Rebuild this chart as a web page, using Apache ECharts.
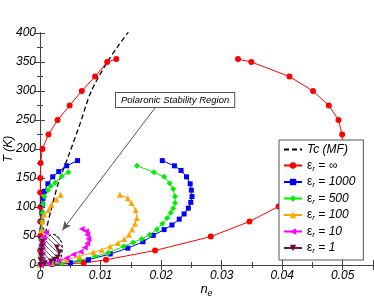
<!DOCTYPE html>
<html><head><meta charset="utf-8">
<script src="https://cdn.jsdelivr.net/npm/echarts@6/dist/echarts.min.js"></script>
<style>html,body{margin:0;padding:0;background:#fff}#c{width:374px;height:300px}</style>
</head><body><div id="c"></div>
<script>
// ---- data (n_e, T) ; null breaks a curve into its two branches ----
const tcMF = [[0,0],[0.0003,22],[0.0008,49],[0.0017,90],[0.003,140],[0.0047,188],[0.0066,243],[0.0084,298],[0.011,348],[0.0128,376],[0.0146,402]];
const eInf = [[0.00005,0],[0.00005,25],[0.00005,50],[0.00005,75],[0.00005,100],[0.00005,125],[0.00005,150],[0.0001,176],[0.0004,200],[0.0014,225],[0.0029,250],[0.0049,275],[0.0069,300],[0.0091,325],[0.0111,350],[0.0126,355],
  null,
  [0.0327,355],[0.0349,350],[0.0412,325],[0.0451,300],[0.0477,275],[0.0493,250],[0.0499,225],[0.0500,200],[0.0494,175],[0.0480,150],[0.0450,125],[0.0394,101],[0.0346,75],[0.0282,49],[0.019,25],[0.0109,9],[0.0072,3.5],[0.0002,0]];
const e1000 = [[0.0001,0],[0.0002,15],[0.0002,30],[0.0002,45],[0.0003,60],[0.0003,75],[0.0003,90],[0.0004,105],[0.0005,115],[0.0007,127],[0.0013,140],[0.0021,152],[0.0031,161],[0.0044,171],[0.0062,180],
  null,
  [0.0202,180],[0.0222,171],[0.0233,163],[0.0242,152],[0.0248,140],[0.0250,129],[0.0251,118],[0.0249,108],[0.0245,98],[0.0238,88],[0.0230,79],[0.0218,69],[0.0205,61],[0.0187,51],[0.0170,40],[0.0145,29],[0.0116,19],[0.0080,9],[0.005,4],[0.002,1],[0.0001,0]];
const e500 = [[0.0001,0],[0.0002,15],[0.0002,30],[0.0003,45],[0.0003,60],[0.0003,75],[0.0004,90],[0.0005,105],[0.0007,118],[0.0013,129],[0.0018,136],[0.0025,142],[0.0036,153],[0.0047,160],
  null,
  [0.0160,171],[0.0188,160],[0.0205,152],[0.0214,141],[0.0220,131],[0.0223,118],[0.0223,107],[0.0220,98],[0.0216,90],[0.0210,81],[0.0202,71],[0.0193,61],[0.0181,52],[0.0168,45],[0.0154,39],[0.0138,32],[0.0113,21],[0.0091,15],[0.0065,8],[0.0035,3],[0.0001,0]];
const e100 = [[0.0001,0],[0.0002,15],[0.0002,30],[0.0003,45],[0.0003,60],[0.0004,75],[0.0007,87],[0.0014,95],[0.0019,104],[0.0027,113],[0.0034,121],
  null,
  [0.0132,121],[0.0145,115],[0.0151,107],[0.0158,95],[0.0160,81],[0.0157,71],[0.0152,61],[0.0147,52],[0.0139,45],[0.0129,38],[0.0116,32],[0.0102,26],[0.0088,22],[0.0065,15],[0.0044,9],[0.002,3],[0.0001,0]];
const e10 = [[0.0001,0],[0.0002,10],[0.0002,20],[0.0003,30],[0.0004,40],[0.0006,48],[0.0010,56],
  null,
  [0.0069,62],[0.0076,58],[0.0078,52],[0.0080,45],[0.0078,37],[0.0074,30],[0.0067,23],[0.0055,18],[0.0044,12],[0.003,7],[0.0015,3],[0.0001,0]];
const e1 = [[0.0001,0],[0.0001,8],[0.0002,16],[0.0002,24],[0.0003,32],[0.0004,40],
  null,
  [0.0028,30],[0.0032,22],[0.0029,13],[0.0024,9],[0.0018,6],[0.0008,3],[0.0001,0]];
const regionEdge = [[0.0008,0],[0.0008,38],[0.0012,48],[0.0019,53],[0.0026,52],[0.0032,47],[0.0036,38],[0.0037,27],[0.0035,14],[0.0031,0]];
const arrowFrom = [0.019,271], arrowTo = [0.0037,60];
const xTicks = [0,0.01,0.02,0.03,0.04,0.05];
const yTicks = [0,50,100,150,200,250,300,350,400];
const legendNames = ['Tc (MF)','εr = ∞','εr = 1000','εr = 500','εr = 100','εr = 10','εr = 1'];
const annotationText = 'Polaronic Stability Region';

// ---- hatch pattern ----
const pc = document.createElement('canvas'); pc.width = 5; pc.height = 5;
const g = pc.getContext('2d'); g.strokeStyle = '#444'; g.lineWidth = 0.8;
g.beginPath(); g.moveTo(0,0); g.lineTo(5,5); g.moveTo(-1,4); g.lineTo(1,6); g.moveTo(4,-1); g.lineTo(6,1); g.stroke();

const FONT = 'Liberation Sans, Arial, sans-serif';
const chart = echarts.init(document.getElementById('c'));
const axisCommon = (show) => ({
  axisLine:{show:true, lineStyle:{color:'#444', width:1}},
  axisTick:{show:true, inside:true, length:5, lineStyle:{color:'#444'}},
  minorTick:{show:true, splitNumber:2, length:3, lineStyle:{color:'#444'}},
  splitLine:{show:false}, minorSplitLine:{show:false},
  axisLabel:{show:show, fontStyle:'italic', fontSize:12, color:'#000', fontFamily:FONT}
});
function curve(name, data, color, symbol, size, rot){
  return {type:'line', name, data, connectNulls:false, symbol, symbolSize:size, symbolRotate:rot||0,
    lineStyle:{color, width:1}, itemStyle:{color}, animation:false, z:3};
}
chart.setOption({
  animation:false,
  textStyle:{fontFamily:FONT},
  grid:{left:40, right:1, top:33, bottom:35, outerBoundsMode:'none', containLabel:false},
  xAxis:[
    Object.assign({type:'value', min:0, max:0.055, interval:0.01, position:'bottom',
      name:'{n|n}{s|e}', nameLocation:'middle', nameGap:16, nameMoveOverlap:false,
      nameTextStyle:{rich:{n:{fontSize:13, fontStyle:'italic', color:'#000', fontFamily:FONT}, s:{fontSize:9, fontStyle:'italic', color:'#000', fontFamily:FONT, padding:[8,0,0,0]}}}}, axisCommon(true),
      {axisLabel:{fontStyle:'italic', fontSize:12, color:'#000', fontFamily:FONT, margin:5, showMaxLabel:false,
        formatter:v=> v===0?'0':v.toFixed(2)}}),
    Object.assign({type:'value', min:0, max:0.055, interval:0.01, position:'top'}, axisCommon(false))
  ],
  yAxis:[
    Object.assign({type:'value', min:0, max:400, interval:50, position:'left',
      name:'T (K)', nameLocation:'middle', nameGap:25, nameMoveOverlap:false,
      nameTextStyle:{fontSize:12, fontStyle:'italic', color:'#000', fontFamily:FONT}}, axisCommon(true),
      {axisLabel:{fontStyle:'italic', fontSize:12, color:'#000', fontFamily:FONT, margin:4}}),
    Object.assign({type:'value', min:0, max:400, interval:50, position:'right'}, axisCommon(false))
  ],
  legend:{
    data:legendNames.map((n,i)=> i===0 ? {name:n, itemStyle:{opacity:0}} : n),
    orient:'vertical', left:279, top:140,
    padding:[3,8,5,4], itemGap:3, itemWidth:18, itemHeight:8,
    borderColor:'#555', borderWidth:1, backgroundColor:'#fff', borderRadius:0,
    textStyle:{fontSize:12, fontStyle:'italic', color:'#000', fontFamily:FONT, lineHeight:13,
      rich:{e:{fontSize:12, fontStyle:'normal', color:'#000', fontFamily:FONT},
            r:{fontSize:8, fontStyle:'italic', color:'#000', fontFamily:FONT, padding:[6,0,0,0]},
            t:{fontSize:12, fontStyle:'italic', color:'#000', fontFamily:FONT}}},
    formatter: n => n.startsWith('ε') ? '{e|ε}{r|r}{t|' + n.slice(2) + '}' : n
  },
  series:[
    {type:'line', name:'region', data:regionEdge, symbol:'none', silent:true, z:1,
      lineStyle:{color:'#000', width:1, type:[3,2]},
      areaStyle:{color:{image:pc, repeat:'repeat'}, opacity:1},
      markLine:{silent:true, symbol:['none','arrow'], symbolSize:[6,9],
        lineStyle:{color:'#555', width:1, type:'solid'}, label:{show:false},
        data:[[{coord:arrowFrom},{coord:arrowTo}]]}},
    {type:'line', name:'Tc (MF)', data:tcMF, symbol:'none', smooth:0.3, z:2,
      lineStyle:{color:'#000', width:1.3, type:[5,3]}, itemStyle:{color:'#000'}},
    curve('εr = ∞', eInf, '#ff0000', 'circle', 6),
    curve('εr = 1000', e1000, '#0000ff', 'rect', 5),
    curve('εr = 500', e500, '#00ee00', 'diamond', 6),
    curve('εr = 100', e100, '#ffa500', 'triangle', 6),
    curve('εr = 10', e10, '#ff00ff', 'triangle', 6, 90),
    curve('εr = 1', e1, '#6b0f3e', 'triangle', 6, 180)
  ],
  graphic:[{type:'text', left:115, top:92, z:100,
    style:{text:annotationText, font:'italic 9.5px '+FONT, fill:'#000',
      backgroundColor:'#fff', borderColor:'#555', borderWidth:1, padding:[2,5,2,5]}}]
});
</script></body></html>
